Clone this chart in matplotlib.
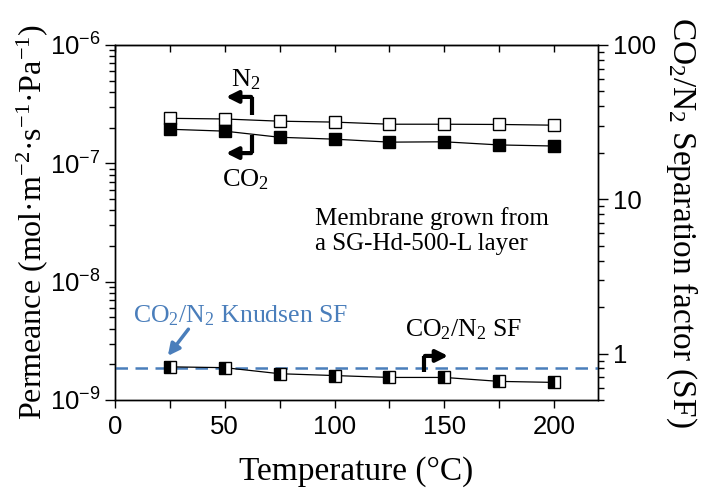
import numpy as np
import matplotlib
matplotlib.use("Agg")
import matplotlib.pyplot as plt
from matplotlib.ticker import LogLocator, FixedLocator, NullFormatter, FuncFormatter, MultipleLocator

plt.rcParams['font.family'] = ['Liberation Sans', 'DejaVu Sans']
plt.rcParams['mathtext.default'] = 'regular'

# data
temp = [25, 50, 75, 100, 125, 150, 175, 200]
perm_n2 = [2.40e-7, 2.37e-7, 2.27e-7, 2.23e-7, 2.14e-7, 2.14e-7, 2.13e-7, 2.10e-7]
perm_co2 = [1.94e-7, 1.87e-7, 1.66e-7, 1.60e-7, 1.51e-7, 1.52e-7, 1.43e-7, 1.40e-7]
sf = [0.82, 0.81, 0.74, 0.72, 0.70, 0.70, 0.66, 0.65]
knudsen_sf = 0.80

serif = 'Liberation Serif'
blue = '#4a7ebb'

fig = plt.figure(figsize=(7.03, 4.9), dpi=100)
ax = fig.add_axes([0.1636, 0.1837, 0.687, 0.7245])
ax2 = ax.twinx()

ax.plot(temp, perm_n2, '-', color='black', lw=0.9, marker='s', ms=8.5,
        mfc='white', mec='black', mew=1.0, zorder=3)
ax.plot(temp, perm_co2, '-', color='black', lw=0.9, marker='s', ms=8.5,
        mfc='black', mec='black', mew=1.0, zorder=3)

ax2.axhline(knudsen_sf, color=blue, lw=1.8, dashes=(5, 3), zorder=1)
ax2.plot(temp, sf, '-', color='black', lw=0.9, marker='s', ms=8.5,
         fillstyle='left', mfc='black', mfcalt='white', mec='black', mew=1.0, zorder=3)

ax.set_yscale('log')
ax.set_ylim(1e-9, 1e-6)
ax.set_xlim(0, 220)
ax2.set_yscale('log')
ax2.set_ylim(0.5, 100)

# ticks
ax.xaxis.set_major_locator(MultipleLocator(50))
ax.xaxis.set_minor_locator(MultipleLocator(25))
ax.tick_params(axis='x', which='both', direction='out', top=False, length=6, width=1, labelsize=18.5, pad=5)
ax.tick_params(axis='y', which='major', direction='out', length=7, width=1, labelsize=18.5)
ax.tick_params(axis='y', which='minor', direction='out', length=4, width=1)
ax.yaxis.set_major_locator(LogLocator(base=10, numticks=10))
ax.yaxis.set_minor_locator(LogLocator(base=10, subs=np.arange(2, 10), numticks=10))
ax.yaxis.set_minor_formatter(NullFormatter())

ax2.yaxis.set_major_locator(FixedLocator([1, 10, 100]))
ax2.yaxis.set_major_formatter(FuncFormatter(lambda v, p: '%g' % v))
ax2.yaxis.set_minor_locator(LogLocator(base=10, subs=np.arange(2, 10), numticks=10))
ax2.yaxis.set_minor_formatter(NullFormatter())
ax2.tick_params(axis='y', which='major', direction='out', length=7, width=1, labelsize=18.5)
ax2.tick_params(axis='y', which='minor', direction='out', length=4, width=1)

top = ax.secondary_xaxis('top')
top.set_xticks(np.arange(0, 225, 25))
top.tick_params(direction='in', length=5, width=1, labeltop=False)

for a in (ax, ax2):
    for s in a.spines.values():
        s.set_linewidth(1.0)

ax.set_xlabel('Temperature (°C)', family=serif, fontsize=24, labelpad=12)
ax.set_ylabel('Permeance (mol·m$^{-2}$·s$^{-1}$·Pa$^{-1}$)', family=serif, fontsize=23, labelpad=0)
ax2.set_ylabel('CO$_2$/N$_2$ Separation factor (SF)', family=serif, fontsize=24,
               rotation=270, va='bottom', labelpad=6)

# bent arrows pointing to the axes
head = '-|>,head_length=0.7,head_width=0.35'
ax.plot([62.6, 62.6], [2.56e-7, 3.64e-7], color='black', lw=3, solid_capstyle='butt')
ax.annotate('', xy=(49.3, 3.64e-7), xytext=(63.3, 3.64e-7),
            arrowprops=dict(arrowstyle=head, color='black', lw=3))
ax.plot([62.6, 62.6], [1.73e-7, 1.22e-7], color='black', lw=3, solid_capstyle='butt')
ax.annotate('', xy=(49.3, 1.22e-7), xytext=(63.3, 1.22e-7),
            arrowprops=dict(arrowstyle=head, color='black', lw=3))
ax.text(59.4, 5.06e-7, 'N$_2$', family=serif, fontsize=19, ha='center', va='center')
ax.text(59.4, 7.23e-8, 'CO$_2$', family=serif, fontsize=19, ha='center', va='center')

ax2.plot([140.6, 140.6], [0.76, 0.965], color='black', lw=3, solid_capstyle='butt')
ax2.annotate('', xy=(153, 0.965), xytext=(139.9, 0.965),
             arrowprops=dict(arrowstyle=head, color='black', lw=3))
ax2.text(159, 1.42, 'CO$_2$/N$_2$ SF', family=serif, fontsize=18.5, ha='center', va='center')

ax.text(91.3, 2.68e-8, 'Membrane grown from\na SG-Hd-500-L layer', family=serif, fontsize=18,
        ha='left', va='center', linespacing=1.15)

ax.text(8.2, 5.13e-9, 'CO$_2$/N$_2$ Knudsen SF', family=serif, fontsize=18.5, color=blue,
        ha='left', va='center')
ax.annotate('', xy=(23.3, 2.26e-9), xytext=(34.2, 4.14e-9),
            arrowprops=dict(arrowstyle=head, color=blue, lw=2.5))

fig.savefig('out.png', dpi=100)
